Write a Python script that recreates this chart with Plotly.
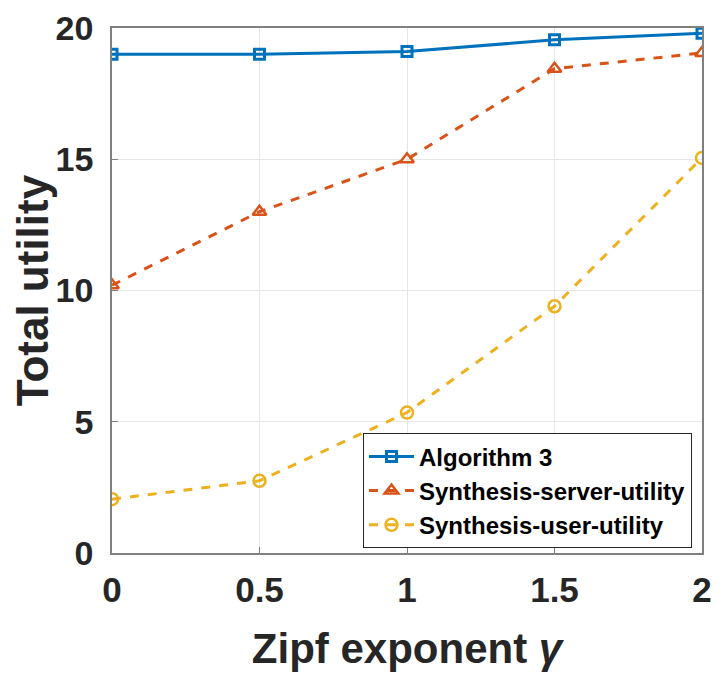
import plotly.graph_objects as go

# valores
gamma = [0, 0.5, 1, 1.5, 2]
algoritmo3 = [19.0, 19.0, 19.1, 19.55, 19.8]
servidor = [10.2, 13.0, 15.0, 18.45, 19.05]
usuario = [2.05, 2.75, 5.35, 9.4, 15.05]

fig = go.Figure()

fig.add_trace(go.Scatter(x=gamma, y=algoritmo3, name='Algorithm 3', mode='lines+markers',
                         line=dict(color='#0072BD', width=3),
                         marker=dict(symbol='square-open', size=10, line=dict(width=3, color='#0072BD'))))
fig.add_trace(go.Scatter(x=gamma, y=servidor, name='Synthesis-server-utility', mode='lines+markers',
                         line=dict(color='#D95319', width=3, dash='dash'),
                         marker=dict(symbol='triangle-up-open', size=12, line=dict(width=2.5, color='#D95319'))))
fig.add_trace(go.Scatter(x=gamma, y=usuario, name='Synthesis-user-utility', mode='lines+markers',
                         line=dict(color='#EDB120', width=3, dash='dash'),
                         marker=dict(symbol='circle-open', size=12, line=dict(width=2.5, color='#EDB120'))))

eixo = dict(showline=True, mirror=True, linecolor='#808080', linewidth=1.5,
            showgrid=True, gridcolor='#E6E6E6', gridwidth=1, automargin=False,
            ticks='inside', ticklen=6, tickcolor='#808080', zeroline=False,
            ticklabeloverflow='allow')

fig.update_xaxes(range=[0, 2], tickvals=[0, 0.5, 1, 1.5, 2], ticktext=['0', '0.5', '1', '1.5', '2'],
                 ticklabelstandoff=5,
                 tickfont=dict(family='Liberation Sans', size=35, color='#262626', weight='bold'),
                 title=dict(text='Zipf exponent <i>γ</i>', standoff=26,
                            font=dict(family='Liberation Sans', size=42, color='#262626', weight='bold')),
                 **eixo)
fig.update_yaxes(range=[0, 20], tickvals=[0, 5, 10, 15, 20], ticklabelstandoff=10,
                 tickfont=dict(family='Liberation Sans', size=34, color='#262626', weight='bold'),
                 title=dict(text='Total utility', standoff=4,
                            font=dict(family='Liberation Sans', size=44, color='#262626', weight='bold')),
                 **eixo)

# a página tem margem de 8px no body, por isso as margens estão deslocadas
fig.update_layout(width=723, height=693, plot_bgcolor='white', paper_bgcolor='white',
                  margin=dict(l=104, r=29, t=20, b=148),
                  legend=dict(x=0.983, y=0.009, xanchor='right', yanchor='bottom',
                              bgcolor='white', bordercolor='#262626', borderwidth=1,
                              font=dict(family='Liberation Sans', size=24, color='#000000', weight='bold'),
                              tracegroupgap=0, itemwidth=45))

fig.write_html("out.html")
